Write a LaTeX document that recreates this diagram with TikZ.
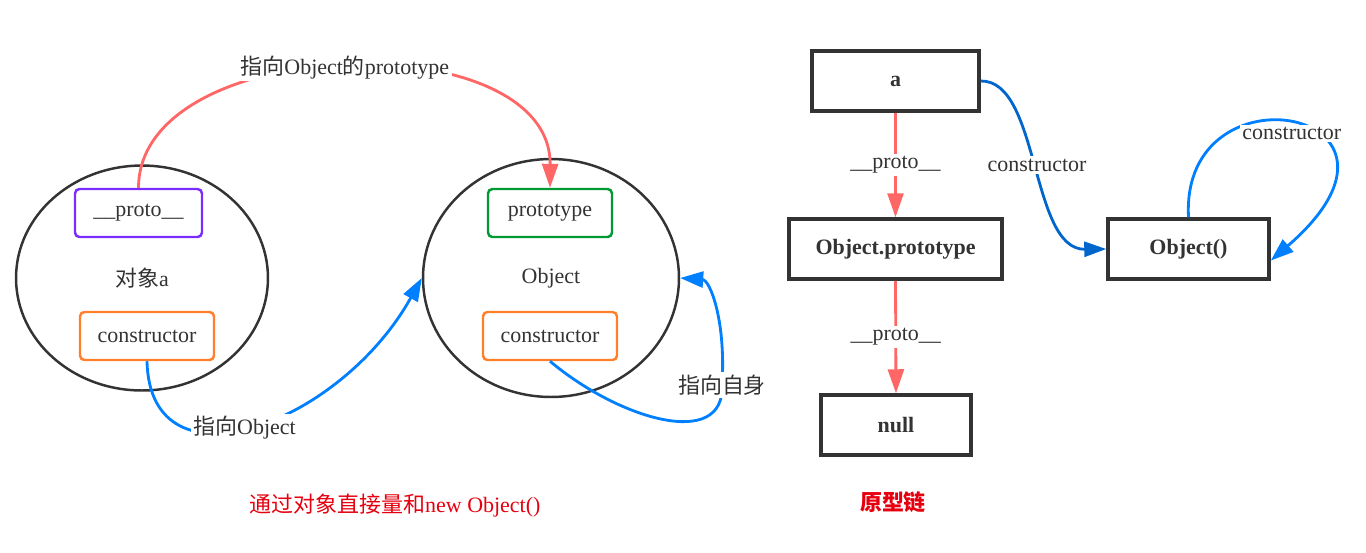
\documentclass[tikz,border=0pt]{standalone}
\usepackage{fontspec}
\setmainfont{Liberation Serif}
\newfontfamily\cjk{Noto Sans CJK SC}
\usetikzlibrary{shapes.geometric,arrows.meta}
\definecolor{ink}{HTML}{333333}
\definecolor{protored}{HTML}{FF6666}
\definecolor{linkblue}{HTML}{0080FF}
\definecolor{darkblue}{HTML}{0066CC}
\definecolor{slotpurple}{HTML}{7B2CFF}
\definecolor{slotgreen}{HTML}{009933}
\definecolor{slotorange}{HTML}{FF7F2A}
\definecolor{notered}{HTML}{E6000F}
\begin{document}
\begin{tikzpicture}[x=0.02cm,y=-0.02cm,
	font=\fontsize{12.5}{15}\selectfont, text=ink,
	obj/.style={ellipse,draw=ink,line width=1.4pt,inner sep=0pt},
	slot/.style={draw,rounded corners=2.5pt,line width=1.4pt,minimum height=0.96cm},
	chain/.style={draw=ink,line width=2pt,minimum height=1.2cm,font=\fontsize{12.5}{15}\selectfont\bfseries},
	protoedge/.style={protored,line width=1.6pt,-{Triangle[length=0.48cm,width=0.32cm]}},
	linkedge/.style={linkblue,line width=1.6pt,-{Triangle[length=0.46cm,width=0.32cm]}},
	darkedge/.style={darkblue,line width=1.6pt,-{Triangle[length=0.44cm,width=0.3cm]}},
	lbl/.style={fill=white,inner sep=1.5pt,text=ink}
	]
	\useasboundingbox (0,0) rectangle (1366,552);
	
	% left: two objects
	\node[obj,minimum width=5.04cm,minimum height=4.5cm] (objA) at (142,278) {{\cjk 对象}a};
	\node[slot,draw=slotpurple,minimum width=2.54cm] (protoA) at (138.5,213) {\_\_proto\_\_};
	\node[slot,draw=slotorange,minimum width=2.68cm] (ctorA) at (147,336) {constructor};
	
	\node[obj,minimum width=5.12cm,minimum height=4.76cm] (objB) at (551,278) {Object};
	\node[slot,draw=slotgreen,minimum width=2.48cm] (protoB) at (550,213) {prototype};
	\node[slot,draw=slotorange,minimum width=2.68cm] (ctorB) at (550,336) {constructor};
	
	\draw[protoedge] (protoA.north) .. controls (139,32) and (551,22) .. (protoB.north)
		node[lbl,pos=0.5] (lproto) {{\cjk 指向}Object{\cjk 的}prototype};
	\draw[linkedge] (ctorA.south) .. controls (150,495) and (340,425) .. (objB.west)
		node[lbl,pos=0.47] (lobj) {{\cjk 指向}Object};
	\draw[linkedge] (ctorB.south) .. controls (620,420) and (725,450) .. (722,385)
		node[lbl] (lself) {\cjk 指向自身} .. controls (726,320) and (710,280) .. (objB.east);
	
	\node[text=notered] (noteA) at (395,506) {{\cjk 通过对象直接量和}new Object()};
	
	% right: prototype chain
	\node[chain,minimum width=3.34cm] (boxA) at (895.5,81) {a};
	\node[chain,minimum width=4.26cm] (boxOP) at (895.5,249) {Object.prototype};
	\node[chain,minimum width=3cm] (boxNull) at (896,425) {null};
	\node[chain,minimum width=3.22cm] (boxOb) at (1188.5,249) {Object()};
	
	\draw[protoedge] (boxA.south) -- (boxOP.north) node[lbl,midway] (lp1) {\_\_proto\_\_};
	\draw[protoedge] (boxOP.south) -- (boxNull.north) node[lbl,midway] (lp2) {\_\_proto\_\_};
	\draw[darkedge] (boxA.east) .. controls (1040,80) and (1030,250) .. (boxOb.west)
		node[lbl,pos=0.5] (lc1) {constructor};
	\draw[linkedge] (boxOb.north) .. controls (1180,60) and (1445,110) .. (boxOb.-8)
		node[lbl,pos=0.5,yshift=-0.2cm] (lc2) {constructor};
	
	\node[text=notered,font=\fontsize{12.5}{15}\selectfont\bfseries] (noteB) at (893,502) {\cjk 原型链};
\end{tikzpicture}
\end{document}
